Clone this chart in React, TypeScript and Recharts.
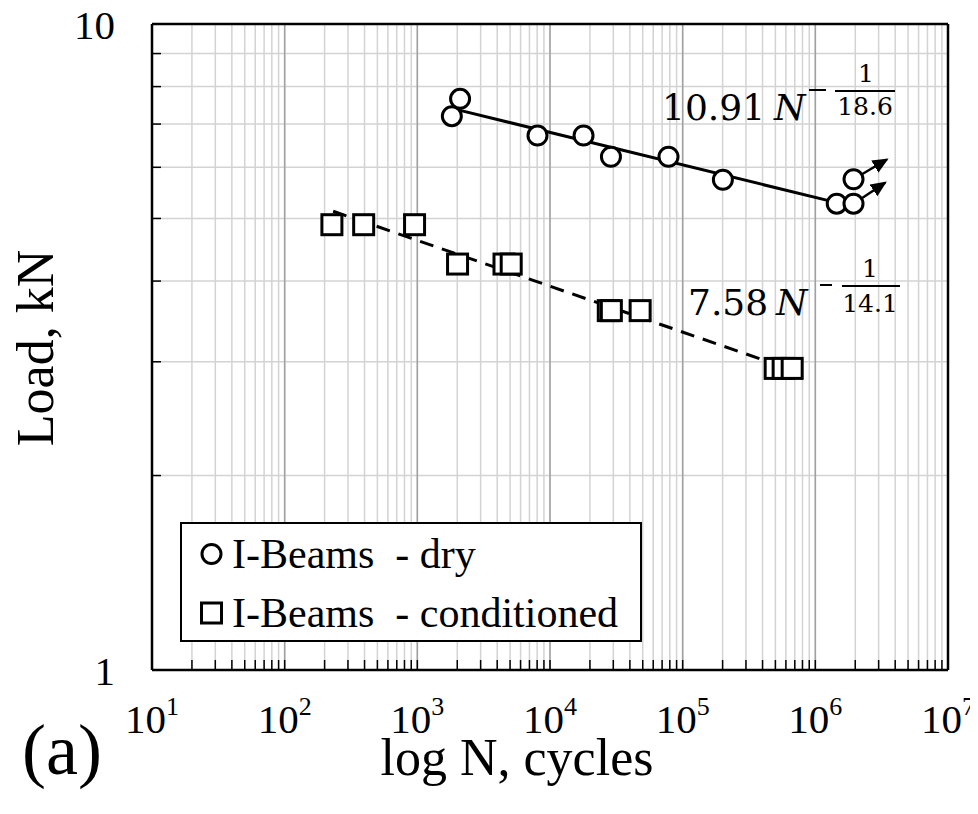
import React from 'react';
import { ComposedChart, Scatter, XAxis, YAxis, CartesianGrid, ReferenceLine } from 'recharts';

// measured points (N cycles, load kN)
const dryN = [1820, 2100, 8050, 17900, 28800, 78200, 201000, 1450000, 1940000, 1940000];
const dryLoad = [7.2, 7.66, 6.72, 6.72, 6.23, 6.23, 5.74, 5.27, 5.27, 5.75];

const condN = [227, 394, 953, 2010, 4500, 5100, 27500, 29000, 47800, 498000, 572000, 669000];
const condLoad = [4.89, 4.89, 4.89, 4.25, 4.25, 4.25, 3.6, 3.6, 3.6, 2.93, 2.93, 2.93];

// fitted power-law lines, read at their ends
const dryFitN = [2100, 1450000];
const dryFitLoad = [7.35, 5.29];
const condFitN = [232, 405000];
const condFitLoad = [5.13, 3.02];

// run-outs
const runoutStartN = [1940000, 1940000];
const runoutStartLoad = [5.75, 5.27];
const runoutEndN = [3460000, 3360000];
const runoutEndLoad = [6.17, 5.68];

const seriesNames = ['I-Beams  - dry', 'I-Beams  - conditioned'];

const decades = [10, 100, 1000, 10000, 100000, 1000000, 10000000];
const minorSteps = [1, 2, 3, 4, 5, 6, 7, 8, 9];
const xTicks = decades.flatMap((d, i) => (i === decades.length - 1 ? [d] : minorSteps.map((m) => m * d)));
const yTicks = [1, 2, 3, 4, 5, 6, 7, 8, 9, 10];
const yLabels = [1, 10];

const pts = (xs: number[], ys: number[]) => xs.map((n, i) => ({ n, load: ys[i] }));

const dryData = pts(dryN, dryLoad);
const condData = pts(condN, condLoad);
const dryFit = pts(dryFitN, dryFitLoad);
const condFit = pts(condFitN, condFitLoad);
const arrows = runoutStartN.map((n, i) => [
  { n, load: runoutStartLoad[i] },
  { n: runoutEndN[i], load: runoutEndLoad[i] },
]);

const SERIF = '"Liberation Serif", "Times New Roman", serif';
const MATH = '"DejaVu Serif", serif';

const isDecade = (v: number) => Math.abs(Math.log10(v) - Math.round(Math.log10(v))) < 1e-9;

function XTick(props: any) {
  const { x, y, payload } = props;
  const v = payload.value;
  const edge = v === 10 || v === 10000000;
  return (
    <g>
      {!edge && <line x1={x} y1={y} x2={x} y2={y - 10} stroke="#000" strokeWidth={1.5} />}
      {isDecade(v) && (
        <text x={x} y={y + 63} textAnchor="middle" fontFamily={SERIF} fontSize={41} fill="#000">
          10
          <tspan fontSize={26} dy={-18}>{Math.round(Math.log10(v))}</tspan>
        </text>
      )}
    </g>
  );
}

function YTick(props: any) {
  const { x, y, payload } = props;
  const v = payload.value;
  const edge = v === 1 || v === 10;
  return (
    <g>
      {!edge && <line x1={x} y1={y} x2={x + 9} y2={y} stroke="#000" strokeWidth={1.5} />}
      {yLabels.includes(v) && (
        <text x={x - 37} y={y + 15} textAnchor="end" fontFamily={SERIF} fontSize={41} fill="#000">
          {v}
        </text>
      )}
    </g>
  );
}

const Circle = (p: any) => <circle cx={p.cx} cy={p.cy} r={9.5} fill="#fff" stroke="#000" strokeWidth={3} />;
const Square = (p: any) => (
  <rect x={p.cx - 10} y={p.cy - 10} width={20} height={20} fill="#fff" stroke="#000" strokeWidth={3} />
);
const NoShape = () => null;

export default function App() {
  return (
    <div style={{ position: 'relative', width: 970, height: 806 }}>
      <ComposedChart width={970} height={806} margin={{ top: 16, right: 30, bottom: 0, left: 0 }}>
        <CartesianGrid stroke="#d3d3d3" strokeWidth={1.5} />
        {decades.slice(1, -1).map((d) => (
          <ReferenceLine key={d} x={d} stroke="#a0a0a0" strokeWidth={1.5} />
        ))}
        <ReferenceLine y={10} stroke="#000" strokeWidth={2.5} />
        <ReferenceLine x={10000000} stroke="#000" strokeWidth={2.5} />
        <XAxis
          dataKey="n"
          type="number"
          scale="log"
          domain={[10, 10000000]}
          ticks={xTicks}
          interval={0}
          allowDataOverflow
          height={144}
          tickSize={0}
          tickMargin={0}
          tickLine={false}
          axisLine={{ stroke: '#000', strokeWidth: 2.5 }}
          tick={<XTick />}
        />
        <YAxis
          dataKey="load"
          type="number"
          scale="log"
          domain={[1, 10]}
          ticks={yTicks}
          interval={0}
          allowDataOverflow
          width={144}
          tickSize={0}
          tickMargin={0}
          tickLine={false}
          axisLine={{ stroke: '#000', strokeWidth: 2.5 }}
          tick={<YTick />}
        />
        {arrows.map((a, i) => (
          <Scatter
            key={'arrow' + i}
            data={a}
            shape={NoShape}
            line={{ stroke: '#000', strokeWidth: 2.5, markerEnd: 'url(#arrowHead)' }}
            isAnimationActive={false}
          />
        ))}
        <Scatter data={dryFit} shape={NoShape} line={{ stroke: '#000', strokeWidth: 3 }} isAnimationActive={false} />
        <Scatter
          data={condFit}
          shape={NoShape}
          line={{ stroke: '#000', strokeWidth: 3, strokeDasharray: '14 9' }}
          isAnimationActive={false}
        />
        <Scatter name={seriesNames[0]} data={dryData} shape={Circle} isAnimationActive={false} />
        <Scatter name={seriesNames[1]} data={condData} shape={Square} isAnimationActive={false} />
      </ComposedChart>

      <svg
        width={970}
        height={806}
        style={{ position: 'absolute', left: 0, top: 0, pointerEvents: 'none' }}
      >
        <defs>
          <marker
            id="arrowHead"
            markerUnits="userSpaceOnUse"
            markerWidth={16}
            markerHeight={14}
            refX={14}
            refY={7}
            orient="auto"
          >
            <path d="M0,0 L16,7 L0,14 z" fill="#000" />
          </marker>
        </defs>
        <text
          transform="translate(45,340) rotate(-90)"
          textAnchor="middle"
          fontFamily={SERIF}
          fontSize={52}
          fill="#000"
        >
          Load, kN
        </text>
        <text x={509} y={767} textAnchor="middle" fontFamily={SERIF} fontSize={52} fill="#000">
          log N, cycles
        </text>
        <text x={14} y={766} fontFamily={SERIF} fontSize={72} fill="#000">
          (a)
        </text>

        <g fontFamily={MATH} fill="#000">
          <text x={654} y={112} fontSize={36}>10.91</text>
          <text x={766} y={112} fontSize={36} fontStyle="italic">N</text>
          <line x1={801} y1={82} x2={818} y2={82} stroke="#000" strokeWidth={2} />
          <text x={858} y={74} fontSize={25} textAnchor="middle">1</text>
          <line x1={827} y1={83} x2={887} y2={83} stroke="#000" strokeWidth={2} />
          <text x={857} y={107} fontSize={25} textAnchor="middle">18.6</text>

          <text x={680} y={307} fontSize={36}>7.58</text>
          <text x={768} y={307} fontSize={36} fontStyle="italic">N</text>
          <line x1={812} y1={277} x2={824} y2={277} stroke="#000" strokeWidth={2} />
          <text x={862} y={269} fontSize={25} textAnchor="middle">1</text>
          <line x1={834} y1={278} x2={892} y2={278} stroke="#000" strokeWidth={2} />
          <text x={862} y={304} fontSize={25} textAnchor="middle">14.1</text>
        </g>
      </svg>

      <div
        style={{
          position: 'absolute',
          left: 172,
          top: 514,
          width: 458,
          height: 116,
          border: '2px solid #000',
          background: '#fff',
          fontFamily: SERIF,
          fontSize: 42,
          color: '#000',
        }}
      >
        {seriesNames.map((name, i) => (
          <div key={name} style={{ position: 'absolute', left: 0, top: i * 59, height: 59, display: 'flex', alignItems: 'center', whiteSpace: 'pre' }}>
            <svg width={50} height={30} style={{ flex: 'none' }}>
              {i === 0 ? (
                <circle cx={29.5} cy={15} r={9.5} fill="#fff" stroke="#000" strokeWidth={3} />
              ) : (
                <rect x={19.5} y={5} width={20} height={20} fill="#fff" stroke="#000" strokeWidth={3} />
              )}
            </svg>
            <span>{name}</span>
          </div>
        ))}
      </div>
    </div>
  );
}
